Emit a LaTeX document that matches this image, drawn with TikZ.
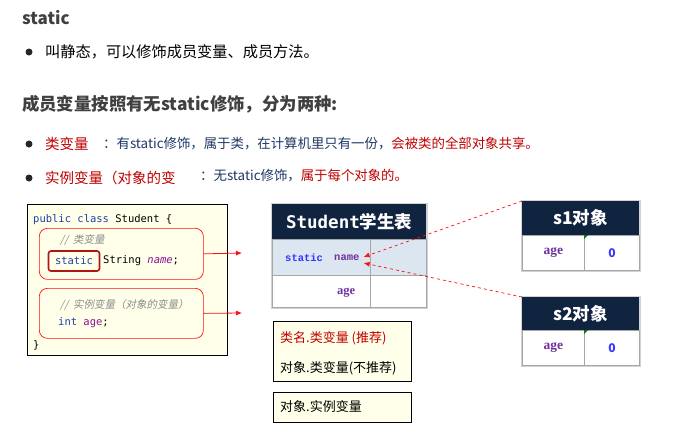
\documentclass[tikz,border=0pt]{standalone}
\usepackage{fontspec}
\setmainfont{Noto Sans CJK SC}
\newfontfamily\cjkit{Noto Sans CJK SC}[FakeSlant=0.2]
\newfontfamily\mono{DejaVu Sans Mono}
\newfontfamily\cmono{Liberation Mono}
\newfontfamily\serifb{Liberation Serif}
\usetikzlibrary{arrows.meta,calc}
\definecolor{navy}{HTML}{10233F}
\definecolor{titlegray}{HTML}{404040}
\definecolor{txtred}{HTML}{C00000}
\definecolor{txtblue}{HTML}{1F3864}
\definecolor{codebg}{HTML}{FFFFEA}
\definecolor{kw}{HTML}{1F3FA8}
\definecolor{fld}{HTML}{871094}
\definecolor{cmt}{HTML}{8C8C8C}
\definecolor{rowblue}{HTML}{DCE6F1}
\definecolor{tblue}{HTML}{3333FF}
\definecolor{tpurple}{HTML}{7030A0}
\definecolor{darkred}{HTML}{B01515}
\definecolor{brightred}{HTML}{FF1010}
\tikzset{
  txt/.style={inner sep=0pt, anchor=west},
  bulletdot/.style={circle, fill=black!85, inner sep=0pt, minimum size=7pt},
  code/.style={inner sep=0pt, anchor=west, font=\mono\fontsize{10.5}{12}\selectfont},
  grpbox/.style={draw=brightred, rounded corners=8pt, fill=codebg, anchor=north west, inner sep=0pt, line width=0.7pt},
  redarrow/.style={draw=brightred, line width=0.8pt, -{Latex[length=6pt,width=5pt]}},
  dasharrow/.style={draw=brightred, dashed, line width=0.7pt, -{Latex[length=6pt,width=5pt]}},
  hdr/.style={fill=navy, text=white, anchor=north west, inner sep=0pt},
  cell/.style={draw=gray!70, anchor=north west, inner sep=0pt, line width=0.8pt},
  notebox/.style={draw=black, fill=codebg, anchor=north west, inner sep=0pt, line width=0.9pt},
  agetxt/.style={text=tpurple, font=\serifb\bfseries\fontsize{13.5}{15}\selectfont},
  zerotxt/.style={text=tblue, font=\bfseries\fontsize{12}{14}\selectfont},
}
\begin{document}
\begin{tikzpicture}[x=1pt,y=-1pt]
\useasboundingbox (0,0) rectangle (680,432);
\fill[white] (0,0) rectangle (680,432);

% headings
\node[txt, text=titlegray, font=\bfseries\fontsize{17}{20}\selectfont] (t1) at (22,18) {static};
\node[bulletdot] (d1) at (29,52) {};
\node[txt, font=\fontsize{15.2}{18}\selectfont] (l1) at (45,52) {叫静态，可以修饰成员变量、成员方法。};
\node[txt, text=titlegray, font=\bfseries\fontsize{17.4}{20}\selectfont] (t2) at (22,104) {成员变量按照有无static修饰，分为两种:};

\node[bulletdot] (d2) at (29,144) {};
\node[txt, text=txtred, font=\fontsize{14.5}{17}\selectfont] (l2a) at (45,144) {类变量};
\node[txt, text=txtblue, font=\fontsize{13.4}{16}\selectfont] (l2b) at (103,144) {：有static修饰，属于类，在计算机里只有一份，{\color{txtred}会被类的全部对象共享。}};

\node[bulletdot] (d3) at (29,178) {};
\node[txt, text=txtred, font=\fontsize{14.5}{17}\selectfont] (l3a) at (45,178) {实例变量（对象的变};
\node[txt, text=txtblue, font=\fontsize{13.4}{16}\selectfont] (l3b) at (200,176) {：无static修饰，{\color{txtred}属于每个对象的。}};

% code box
\node[draw=black, fill=codebg, anchor=north west, minimum width=200pt, minimum height=151pt, inner sep=0pt, line width=0.9pt] (codebox) at (27,204) {};
\node[grpbox, minimum width=164pt, minimum height=51pt] (g1) at (39,228) {};
\node[grpbox, minimum width=164pt, minimum height=50pt] (g2) at (39,288) {};
\node[code] (c1) at (33,220) {{\color{kw}public class} Student \{};
\node[code, text=cmt] (c2) at (60,240) {{\cjkit //\ \ 类变量}};
\node[draw=darkred, line width=1.6pt, rounded corners=2.5pt, minimum width=51pt, minimum height=20pt, inner sep=0pt, text=kw, font=\mono\fontsize{10.5}{12}\selectfont] (kwst) at (74,261) {static};
\node[code] (c3) at (103,261) {String {\color{fld}\itshape name};};
\node[code, text=cmt] (c4) at (60,305) {{\cjkit //\ \ 实例变量（对象的变量）}};
\node[code] (c5) at (58,323) {{\color{kw}int} {\color{fld}age};};
\node[code] (c6) at (33,345) {\}};
\coordinate (a1) at (242,253);
\coordinate (a2) at (242,313);
\draw[redarrow] (g1.east) -- (a1);
\draw[redarrow] (g2.east) -- (a2);

% Student table
\fill[gray!35] (270.5,202.5) rectangle (428,309);
\node[hdr, minimum width=154pt, minimum height=35pt, font=\bfseries\fontsize{17.5}{20}\selectfont] (sh) at (272,204) {{\mono\bfseries Student}学生表};
\node[cell, fill=rowblue, minimum width=98pt, minimum height=36pt] (r1a) at (272,239) {};
\node[cell, fill=rowblue, minimum width=56pt, minimum height=36pt] (r1b) at (370,239) {};
\node[cell, fill=white, minimum width=98pt, minimum height=32pt] (r2a) at (272,275) {};
\node[cell, fill=white, minimum width=56pt, minimum height=32pt] (r2b) at (370,275) {};
\node[txt, text=tblue, font=\cmono\bfseries\fontsize{10.5}{12}\selectfont] (st) at (285,258) {static};
\node[txt, text=tpurple, font=\cmono\bfseries\fontsize{10.5}{12}\selectfont] (nm) at (334,258) {name};
\node[txt, agetxt, font=\serifb\bfseries\fontsize{12.5}{14}\selectfont] (ag) at (337,293) {age};

% s1 table
\fill[gray!35] (520.5,199.5) rectangle (641,272);
\node[hdr, minimum width=117pt, minimum height=34pt, font=\bfseries\fontsize{17.5}{20}\selectfont] (s1h) at (522,201) {s1对象};
\node[cell, fill=white, minimum width=62pt, minimum height=35pt, agetxt] (s1a) at (522,235) {age};
\node[cell, fill=white, minimum width=55pt, minimum height=35pt, zerotxt] (s1v) at (584,235) {0};
\fill[green!50!black] (s1v.north west) -- ++(4,0) -- ++(-4,4) -- cycle;

% s2 table
\fill[gray!35] (520.5,295.5) rectangle (641,367);
\node[hdr, minimum width=117pt, minimum height=33pt, font=\bfseries\fontsize{17.5}{20}\selectfont] (s2h) at (522,297) {s2对象};
\node[cell, fill=white, minimum width=62pt, minimum height=35pt, agetxt] (s2a) at (522,330) {age};
\node[cell, fill=white, minimum width=55pt, minimum height=35pt, zerotxt] (s2v) at (584,330) {0};
\fill[green!50!black] (s2v.north west) -- ++(4,0) -- ++(-4,4) -- cycle;

\draw[dasharrow] (s1h.north west) -- ([xshift=4pt,yshift=1pt]nm.east);
\draw[dasharrow] (s2h.north west) -- ([xshift=4pt,yshift=-5pt]nm.east);

% note boxes
\node[notebox, minimum width=138pt, minimum height=60pt] (nb1) at (273,321) {};
\node[txt, text=txtred, font=\fontsize{13}{16}\selectfont] (n1) at (280,338) {类名.类变量 (推荐)};
\node[txt, font=\fontsize{13}{16}\selectfont] (n2) at (280,368) {对象.类变量(不推荐)};
\node[notebox, minimum width=138pt, minimum height=30pt] (nb2) at (273,392) {};
\node[txt, font=\fontsize{13}{16}\selectfont] (n3) at (280,407) {对象.实例变量};
\end{tikzpicture}
\end{document}
